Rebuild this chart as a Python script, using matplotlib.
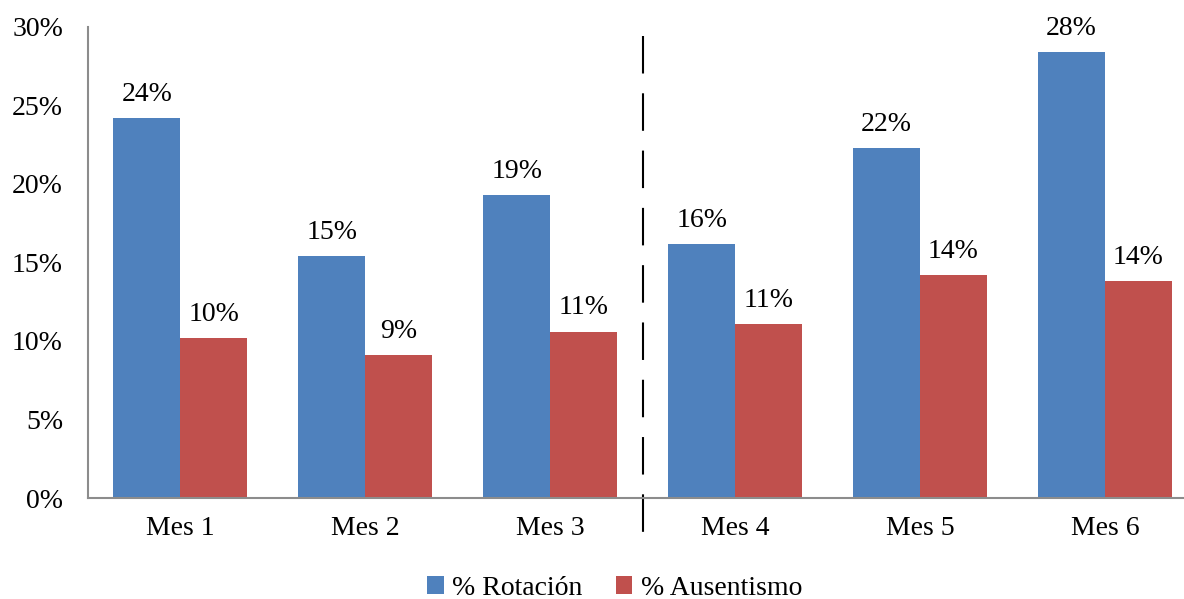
import matplotlib.pyplot as plt
import numpy as np
from matplotlib.ticker import PercentFormatter

plt.rcParams['font.family'] = ['Liberation Serif', 'DejaVu Serif']

meses = ['Mes 1', 'Mes 2', 'Mes 3', 'Mes 4', 'Mes 5', 'Mes 6']
rotacion = [24.2, 15.4, 19.3, 16.2, 22.3, 28.4]
ausentismo = [10.2, 9.1, 10.6, 11.1, 14.2, 13.8]

azul = '#4F81BD'
rojo = '#C0504D'
fs = 20

fig = plt.figure(figsize=(11.84, 5.99), dpi=100)
ax = fig.add_axes([0.0743, 0.1686, 0.937, 0.7864])

x = np.arange(len(meses))
w = 0.362
b1 = ax.bar(x - w / 2, rotacion, w, color=azul, label='% Rotación')
b2 = ax.bar(x + w / 2, ausentismo, w, color=rojo, label='% Ausentismo')

for bars, vals in ((b1, rotacion), (b2, ausentismo)):
    for rect, v in zip(bars, vals):
        ax.annotate(f'{round(v)}%', (rect.get_x() + rect.get_width() / 2, v),
                    xytext=(0, 8), textcoords='offset points',
                    ha='center', va='bottom', fontsize=fs)

# separator between first and second trimester
ax.plot([2.5, 2.5], [29.4, -2.7], color='black', lw=1.5,
        dashes=(18, 9.5), clip_on=False)

ax.set_xlim(-0.5, 5.5)
ax.set_ylim(0, 30)
ax.set_yticks(np.arange(0, 31, 5))
ax.yaxis.set_major_formatter(PercentFormatter(decimals=0))
ax.set_xticks(x)
ax.set_xticklabels(meses)
ax.tick_params(length=0, labelsize=fs)
ax.tick_params(axis='y', pad=18)
ax.tick_params(axis='x', pad=13)

for s in ('top', 'right'):
    ax.spines[s].set_visible(False)
for s in ('left', 'bottom'):
    ax.spines[s].set_color('#8C8C8C')
    ax.spines[s].set_linewidth(1.5)

fig.legend(loc='center', bbox_to_anchor=(0.519, 0.018), ncol=2, frameon=False,
           fontsize=fs, handlelength=0.6, handleheight=0.6,
           handletextpad=0.3, columnspacing=1.2)

fig.savefig('out.png')
